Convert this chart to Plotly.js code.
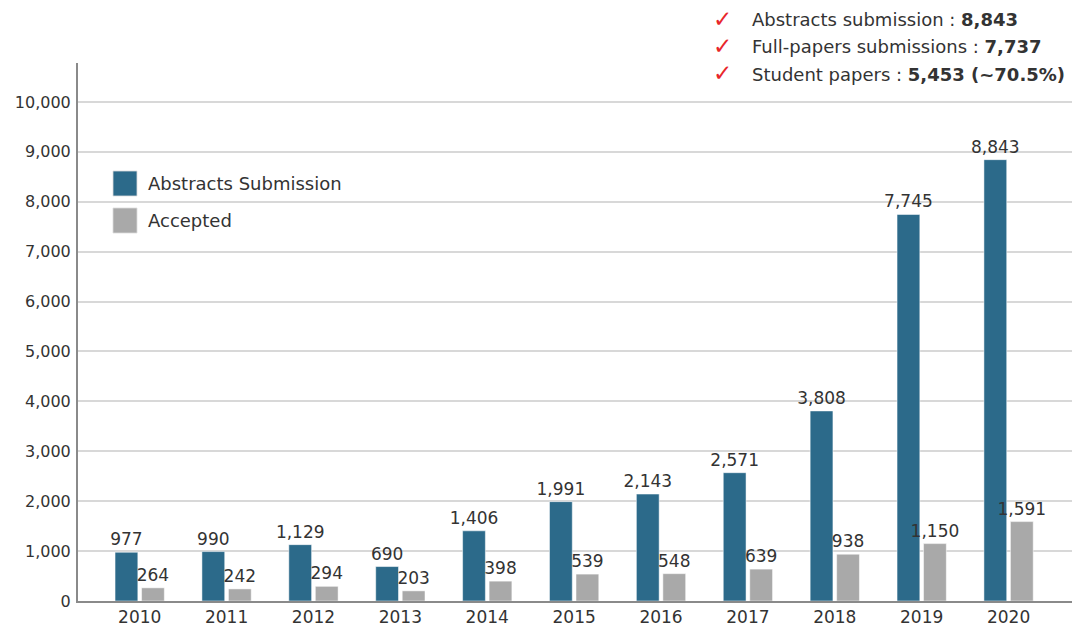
<!DOCTYPE html>
<html>
<head>
<meta charset="utf-8">
<script src="https://cdn.plot.ly/plotly-3.0.1.min.js"></script>
<style>
  html, body { margin: 0; padding: 0; background: #fff; }
  #chart { width: 1074px; height: 631px; }
</style>
</head>
<body>
<div id="chart"></div>
<script>
// Conference submissions per year
const years = ['2010','2011','2012','2013','2014','2015','2016','2017','2018','2019','2020'];
const abstractsSubmitted = [977, 990, 1129, 690, 1406, 1991, 2143, 2571, 3808, 7745, 8843];
const accepted = [264, 242, 294, 203, 398, 539, 548, 639, 938, 1150, 1591];

const seriesNames = ['Abstracts Submission', 'Accepted'];
const seriesColors = ['#2c6a8a', '#a9a9a9'];

// 2020 highlights shown in the top-right corner
const highlightLabels = ['Abstracts submission', 'Full-papers submissions', 'Student papers'];
const highlightValues = ['8,843', '7,737', '5,453 (~70.5%)'];

const FONT = '"DejaVu Sans", "Noto Sans", sans-serif';
const TEXT = '#333333';

// plot area in pixels, used to place decorations in paper coords
const W = 1074, H = 631;
const M = { l: 78, r: 2, t: 63, b: 30 };
const pw = W - M.l - M.r, ph = H - M.t - M.b;
const px = x => (x - M.l) / pw;
const py = y => (H - M.b - y) / ph;

const traces = [abstractsSubmitted, accepted].map((vals, i) => ({
  type: 'bar',
  name: seriesNames[i],
  x: years,
  y: vals,
  marker: { color: seriesColors[i], line: { color: 'rgba(255,255,255,0.5)', width: 1 } },
  text: vals.map(v => v.toLocaleString('en-US')),
  textposition: 'outside',
  constraintext: 'none',
  textfont: { family: FONT, size: 17, color: TEXT },
  cliponaxis: false,
  hoverinfo: 'x+y',
  showlegend: false
}));

const annotations = [];
const shapes = [];

// legend drawn as swatches + labels
seriesNames.forEach((name, i) => {
  const top = 171 + i * 37;
  shapes.push({
    type: 'rect', xref: 'paper', yref: 'paper',
    x0: px(113), x1: px(137), y0: py(top + 25), y1: py(top),
    fillcolor: seriesColors[i], line: { color: 'rgba(220,220,220,0.8)', width: 1 }
  });
  annotations.push({
    xref: 'paper', yref: 'paper', x: px(146), y: py(top + 12.5),
    xanchor: 'left', yanchor: 'middle', showarrow: false,
    text: name, font: { family: FONT, size: 18, color: TEXT }
  });
});

// highlights with check marks
highlightLabels.forEach((lab, i) => {
  const cy = 20 + i * 27;
  annotations.push({
    xref: 'paper', yref: 'paper', x: px(722), y: py(cy - 1),
    xanchor: 'center', yanchor: 'middle', showarrow: false,
    text: '✓', font: { family: 'DejaVu Sans', size: 23, color: '#e8262b' }
  });
  annotations.push({
    xref: 'paper', yref: 'paper', x: px(750), y: py(cy),
    xanchor: 'left', yanchor: 'middle', showarrow: false,
    text: lab + ' : <b>' + highlightValues[i] + '</b>',
    font: { family: FONT, size: 18, color: TEXT }
  });
});

const layout = {
  width: W, height: H,
  margin: M,
  paper_bgcolor: '#ffffff',
  plot_bgcolor: '#ffffff',
  barmode: 'group',
  bargap: 0.39,
  bargroupgap: 0.14,
  font: { family: FONT, color: TEXT },
  xaxis: {
    type: 'category',
    range: [-0.71, 10.73],
    showgrid: false,
    showline: true, linecolor: '#8a8a8a', linewidth: 2,
    ticks: '',
    tickfont: { family: FONT, size: 17, color: TEXT },
    fixedrange: true
  },
  yaxis: {
    range: [0, 10780],
    dtick: 1000,
    tickformat: ',d',
    showgrid: true, gridcolor: '#d8d8d8', gridwidth: 2,
    zeroline: false,
    showline: true, linecolor: '#8a8a8a', linewidth: 2,
    ticks: '',
    ticklabelstandoff: 2,
    tickfont: { family: FONT, size: 16, color: TEXT },
    fixedrange: true
  },
  shapes: shapes,
  annotations: annotations
};

Plotly.newPlot('chart', traces, layout, { displayModeBar: false, staticPlot: true });
</script>
</body>
</html>
